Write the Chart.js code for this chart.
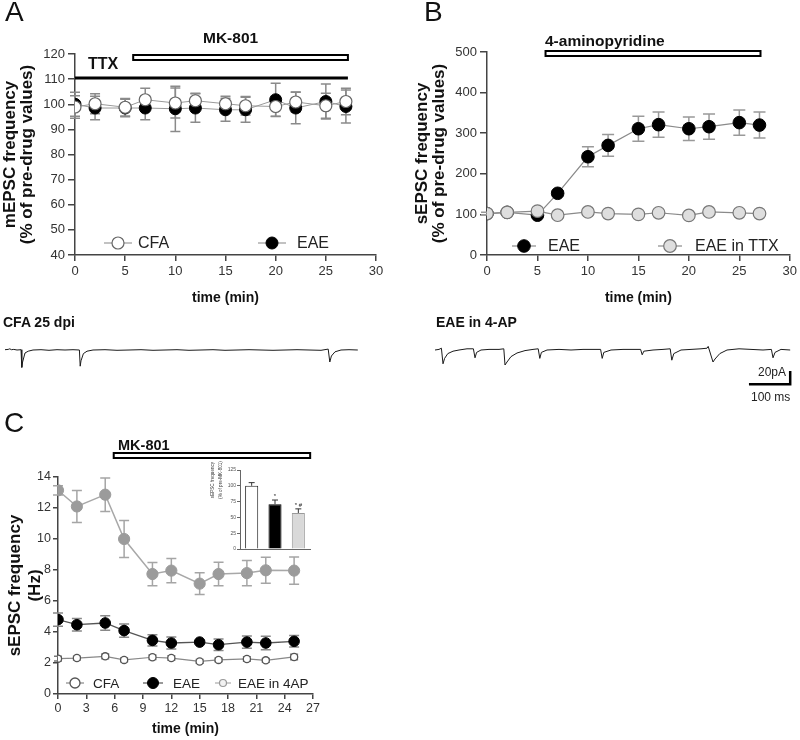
<!DOCTYPE html>
<html><head><meta charset="utf-8">
<script src="https://cdn.jsdelivr.net/npm/chart.js@4.4.1/dist/chart.umd.min.js"></script>
<style>
body{margin:0;width:800px;height:740px;background:#fff;position:relative;overflow:hidden;font-family:"Liberation Sans",Arial,Helvetica,sans-serif;}
canvas{position:absolute;}
.t{position:absolute;white-space:nowrap;color:#111;line-height:1;}
</style></head><body>
<canvas id="cA" width="400" height="320" style="left:0;top:0;width:400px;height:320px"></canvas>
<canvas id="cB" width="400" height="320" style="left:400px;top:0;width:400px;height:320px"></canvas>
<canvas id="tr1" width="360" height="48" style="left:5px;top:341px;width:360px;height:48px"></canvas>
<canvas id="tr2" width="360" height="48" style="left:435px;top:341px;width:360px;height:48px"></canvas>
<canvas id="cC" width="400" height="340" style="left:0;top:400px;width:400px;height:340px"></canvas>
<canvas id="cI" width="115" height="100" style="left:200px;top:455px;width:115px;height:100px"></canvas>
<script>
// ---------------- DATA ----------------
// Panel A: mEPSC frequency (% of pre-drug values)
const timesA = [0,2,5,7,10,12,15,17,20,22,25,27];
const cfaA    = [98.9,100.2,98.8,101.8,100.5,101.4,100.2,99.4,99.1,100.9,99.4,101.1];
const cfaAErr = [4.5,4,3.5,4.6,6,3,3,3.7,4,4,5,5.3];
const eaeA    = [100,98.5,98.5,98.5,98.2,98.5,97.8,97.8,101.8,98.5,101.1,99.1];
const eaeAErr = [4.8,4.7,3.5,4.7,9,5.7,4.6,5,6.6,6.3,7,6.6];
const mk801A  = [5.8,27.2];
const ttxA    = [0,27.2];

// Panel B: sEPSC frequency (% of pre-drug values)
const timesB  = [0,2,5,7,10,12,15,17,20,22,25,27];
const eaeB    = [102,105,98,152,242,270,311,321,311,316,326,320];
const eaeBErr = [3,4,4,6,24.5,27,31,31,29,31,31,32];
const ttxB    = [102,105,108,98,106,102,100,104,97.5,106,104,102];
const apB     = [5.8,27.1];

// Panel C: sEPSC frequency (Hz)
const timesC  = [0,2,5,7,10,12,15,17,20,22,25];
const cfaC    = [2.28,2.32,2.43,2.2,2.37,2.32,2.1,2.2,2.26,2.17,2.39];
const cfaCErr = [0.15,0.12,0.15,0.12,0.15,0.15,0.12,0.12,0.15,0.12,0.18];
const eaeC    = [4.8,4.47,4.58,4.09,3.46,3.29,3.35,3.18,3.35,3.29,3.4];
const eaeCErr = [0.43,0.4,0.47,0.43,0.37,0.39,0.1,0.37,0.4,0.43,0.37];
const ap4C    = [13.14,12.1,12.86,10.0,7.74,7.96,7.12,7.74,7.8,7.98,7.96];
const ap4CErr = [0.3,1.03,1.08,1.2,0.75,0.78,0.7,0.76,0.82,0.84,0.88];
const mk801C  = [5.9,26.7];

// Inset: sEPSC frequency (% of pre-MK-801)
const insetCats  = ['CFA','EAE','EAE in 4AP'];
const insetVals  = [100,71,57];
const insetErr   = [5,6.5,6.5];
const insetMarks = ['','*','* #'];

// Example traces (ms, pA)
const traceCFA_t  = [0,8,12,16,22,30,40,42,44,50,58,70,90,110,130,150,170,186,188,190,196,205,220,250,280,310,340,370,400,430,460,490,520,550,580,610,640,670,700,730,760,790,808,812,816,825,840,860,882];
const traceCFA_pA = [0.5,1,2,0.5,1,0,0.5,-29,-20,-5,-2,0,0.5,-0.5,0.5,0,0.5,0,-27,-18,-6,-2,0,0.5,-0.5,0,0.5,-0.5,0,0.5,-0.5,0,0.5,-0.5,0,0.5,0,-0.5,0,0.5,0,-0.5,1.5,-20,-10,-3,0,0.5,0];
const traceEAE_t  = [0,10,16,20,24,32,45,60,80,96,100,104,115,135,160,172,175,180,190,205,225,245,258,262,266,280,310,340,370,400,414,418,422,440,470,500,514,518,522,545,570,588,592,597,615,640,665,680,683,695,700,712,730,760,790,820,841,845,850,865,888];
const traceEAE_pA = [0,1,3,-23,-14,-6,-2,0,2,2,-13,-4,0,1,1,2,-25,-20,-11,-5,-1,1,2,-14,-4,0,1,0,1,1,1,-14,-4,0,1,1,1,-8,-2,0,1,2,-17,-6,0,1,2,3,6,-20,-15,-6,0,2,1,0,1,-13,-4,1,0];
const scaleBar = {ms:100, pA:20, atMs:888, atPA:-57};

// ---------------- HELPERS ----------------
const F = "'Liberation Sans', Arial, Helvetica, sans-serif";
Chart.defaults.font.family = F;
Chart.defaults.color = '#333';
Chart.defaults.animation = false;

function pts(xs, ys){ return xs.map((x,i)=>({x:x, y:ys[i]})); }

function addText(txt, left, baseline, size, weight, extra){
  const d = document.createElement('div');
  d.className = 't';
  d.textContent = txt;
  d.style.fontSize = size+'px';
  d.style.fontWeight = weight||'normal';
  d.style.top = (baseline - 0.8465*size)+'px';
  if (extra && extra.right!==undefined) d.style.right = extra.right+'px'; else d.style.left = left+'px';
  if (extra && extra.color) d.style.color = extra.color;
  document.body.appendChild(d);
}

// plain (non-proxied) decoration settings, keyed by canvas id
const DECOR = {};

const errPlugin = {
  id:'errbars',
  beforeDatasetsDraw(chart){
    const ctx = chart.ctx, ys = chart.scales.y;
    chart.data.datasets.forEach((ds,di)=>{
      if(!ds.err) return;
      const meta = chart.getDatasetMeta(di);
      ctx.save();
      ctx.strokeStyle = ds.errColor || '#888';
      ctx.lineWidth = ds.errWidth || 1.5;
      ds.data.forEach((p,i)=>{
        const e = ds.err[i]; if(!e) return;
        const v = (typeof p === 'object') ? p.y : p;
        const x = meta.data[i].x;
        const yt = ys.getPixelForValue(v+e);
        const yb = ds.errUpOnly ? ys.getPixelForValue(v) : ys.getPixelForValue(v-e);
        const c = ds.errCap || 5;
        ctx.beginPath();
        ctx.moveTo(x,yt); ctx.lineTo(x,yb);
        ctx.moveTo(x-c,yt); ctx.lineTo(x+c,yt);
        if(!ds.errUpOnly){ ctx.moveTo(x-c,yb); ctx.lineTo(x+c,yb); }
        ctx.stroke();
      });
      ctx.restore();
    });
  }
};

const decorPlugin = {
  id:'decorx',
  afterDatasetsDraw(chart){
    const opts = DECOR[chart.canvas.id] || {};
    const ctx = chart.ctx, ca = chart.chartArea, xs = chart.scales.x;
    (opts.bars||[]).forEach(b=>{
      const x1 = xs.getPixelForValue(b.range[0]), x2 = xs.getPixelForValue(b.range[1]);
      const y = ca.top + b.dy;
      ctx.save();
      if(b.kind==='open'){
        ctx.fillStyle = '#fff'; ctx.strokeStyle = '#000'; ctx.lineWidth = b.lw;
        ctx.fillRect(x1,y,x2-x1,b.h); ctx.strokeRect(x1,y,x2-x1,b.h);
      } else {
        ctx.strokeStyle = '#000'; ctx.lineWidth = b.lw;
        ctx.beginPath(); ctx.moveTo(x1,y); ctx.lineTo(x2,y); ctx.stroke();
      }
      ctx.restore();
    });
    (opts.legend||[]).forEach(it=>{
      const ds = chart.data.datasets[it.ds];
      const cx = ca.left + it.dx, cy = ca.bottom + it.dy;
      ctx.save();
      ctx.strokeStyle = it.lineColor || ds.borderColor; ctx.lineWidth = 1.2;
      ctx.beginPath(); ctx.moveTo(cx-it.half,cy); ctx.lineTo(cx+it.half,cy); ctx.stroke();
      ctx.beginPath(); ctx.arc(cx,cy,it.r || ds.pointRadius,0,Math.PI*2);
      ctx.fillStyle = it.fill || ds.pointBackgroundColor; ctx.fill();
      ctx.lineWidth = it.bw || ds.pointBorderWidth; ctx.strokeStyle = it.border || ds.pointBorderColor; ctx.stroke();
      ctx.fillStyle = '#222'; ctx.font = it.font; ctx.textBaseline = 'middle'; ctx.textAlign = 'left';
      ctx.fillText(ds.label, cx+it.tx, cy+1);
      ctx.restore();
    });
    if(opts.scaleBar){
      const sb = opts.scaleBar, ys = chart.scales.y;
      const x2 = xs.getPixelForValue(sb.atMs), x1 = xs.getPixelForValue(sb.atMs - sb.ms);
      const y2 = ys.getPixelForValue(sb.atPA), y1 = ys.getPixelForValue(sb.atPA + sb.pA);
      ctx.save(); ctx.strokeStyle='#000'; ctx.lineWidth=2.5; ctx.lineCap='square';
      ctx.beginPath(); ctx.moveTo(x1,y2); ctx.lineTo(x2,y2); ctx.lineTo(x2,y1); ctx.stroke();
      ctx.restore();
    }
    if(opts.marks){
      const ys = chart.scales.y, meta = chart.getDatasetMeta(0), ds = chart.data.datasets[0];
      ctx.save(); ctx.fillStyle='#222'; ctx.font='6px '+F; ctx.textAlign='center'; ctx.textBaseline='alphabetic';
      opts.marks.forEach((m,i)=>{ if(!m) return; ctx.fillText(m, meta.data[i].x, ys.getPixelForValue(ds.data[i]+ds.err[i]) - 2); });
      ctx.restore();
    }
    if(opts.rotTitle){
      const r = opts.rotTitle;
      ctx.save(); ctx.fillStyle='#333'; ctx.font=r.font; ctx.textAlign='center'; ctx.textBaseline='middle';
      r.lines.forEach((ln,i)=>{ ctx.save(); ctx.translate(r.x + i*r.lh, r.y); ctx.rotate(-Math.PI/2); ctx.fillText(ln,0,0); ctx.restore(); });
      ctx.restore();
    }
  }
};

function linAxis(o){
  return {
    type:'linear', min:o.min, max:o.max,
    ticks:{stepSize:o.step, color:'#333', font:{size:o.size, family:F}, padding:o.pad},
    grid:{drawOnChartArea:false, drawTicks:true, tickLength:o.tickLen, color:'#444', lineWidth:1.5},
    border:{color:'#444', width:1.5},
    title:{display:true, text:o.title, color:'#111', font:{size:o.titleSize, weight:'bold', family:F, lineHeight:o.lh||1.2}, padding:o.titlePad},
    afterFit:o.fit
  };
}

// ---------------- PANEL A ----------------
DECOR.cA = {
  bars:[{kind:'open',range:mk801A,dy:1,h:5,lw:2},{kind:'line',range:ttxA,dy:24,lw:3.2}],
  legend:[{ds:0,dx:43,dy:-12,half:14,tx:20,font:'16px '+F},{ds:1,dx:197,dy:-12,half:14,tx:25,font:'16px '+F}]
};
new Chart(document.getElementById('cA'), {
  type:'scatter',
  data:{datasets:[
    {label:'CFA', data:pts(timesA,cfaA), err:cfaAErr, errColor:'#8a8a8a', errCap:5, showLine:true,
     borderColor:'#9a9a9a', borderWidth:1, pointRadius:6, pointBackgroundColor:'#fff', pointBorderColor:'#666', pointBorderWidth:1.2},
    {label:'EAE', data:pts(timesA,eaeA), err:eaeAErr, errColor:'#8a8a8a', errCap:5, showLine:true,
     borderColor:'#9a9a9a', borderWidth:1, pointRadius:6, pointBackgroundColor:'#000', pointBorderColor:'#000', pointBorderWidth:1}
  ]},
  options:{
    responsive:false, devicePixelRatio:1,
    layout:{padding:{top:54,right:24,bottom:13,left:0}},
    scales:{
      x:linAxis({min:0,max:30,step:5,size:13,pad:3,tickLen:6,title:'time (min)',titleSize:14,titlePad:{top:0,bottom:0},fit:s=>{s.height=52;}}),
      y:linAxis({min:40,max:120,step:10,size:13,pad:3,tickLen:7,title:['mEPSC frequency','(% of pre-drug values)'],titleSize:17,lh:1.05,titlePad:{top:1,bottom:0},fit:s=>{s.width=75;}})
    },
    plugins:{legend:{display:false}, tooltip:{enabled:false}}
  },
  plugins:[errPlugin, decorPlugin]
});

// ---------------- PANEL B ----------------
DECOR.cB = {
  bars:[{kind:'open',range:apB,dy:-1,h:5,lw:2}],
  legend:[{ds:1,dx:37,dy:-9,half:12,tx:24,font:'16px '+F},{ds:0,dx:183,dy:-9,half:12,tx:25,font:'16px '+F}]
};
new Chart(document.getElementById('cB'), {
  type:'scatter',
  data:{datasets:[
    {label:'EAE in TTX', data:pts(timesB,ttxB), showLine:true,
     borderColor:'#8a8a8a', borderWidth:1.2, pointRadius:6.3, pointBackgroundColor:'#dedede', pointBorderColor:'#777', pointBorderWidth:1.2},
    {label:'EAE', data:pts(timesB,eaeB), err:eaeBErr, errColor:'#999', errCap:6, showLine:true,
     borderColor:'#8a8a8a', borderWidth:1.2, pointRadius:6.3, pointBackgroundColor:'#000', pointBorderColor:'#000', pointBorderWidth:1}
  ]},
  options:{
    responsive:false, devicePixelRatio:1,
    layout:{padding:{top:52,right:7,bottom:13,left:0}},
    scales:{
      x:linAxis({min:0,max:30,step:5,size:13,pad:3,tickLen:6,title:'time (min)',titleSize:14,titlePad:{top:0,bottom:0},fit:s=>{s.height=52;}}),
      y:linAxis({min:0,max:500,step:100,size:13,pad:3,tickLen:7,title:['sEPSC frequency','(% of pre-drug values)'],titleSize:17,lh:1.0,titlePad:{top:13.5,bottom:0},fit:s=>{s.width=87;}})
    },
    plugins:{legend:{display:false}, tooltip:{enabled:false}}
  },
  plugins:[errPlugin, decorPlugin]
});

// ---------------- TRACES ----------------
function traceChart(id, t, v){
  new Chart(document.getElementById(id), {
    type:'line',
    data:{datasets:[{data:pts(t,v), borderColor:'#1a1a1a', borderWidth:1, pointRadius:0, tension:0}]},
    options:{
      responsive:false, devicePixelRatio:1, layout:{padding:0},
      scales:{x:{type:'linear',display:false,min:0,max:900}, y:{type:'linear',display:false,min:-65,max:15}},
      plugins:{legend:{display:false}, tooltip:{enabled:false}}
    },
    plugins:[decorPlugin]
  });
}
DECOR.tr2 = {scaleBar:scaleBar};
traceChart('tr1', traceCFA_t, traceCFA_pA);
traceChart('tr2', traceEAE_t, traceEAE_pA);

// ---------------- PANEL C ----------------
DECOR.cC = {
  bars:[{kind:'open',range:mk801C,dy:-24,h:5,lw:2}],
  legend:[{ds:0,dx:17,dy:-11,half:9,tx:18,r:5,font:'13.5px '+F},
          {ds:1,dx:95,dy:-11,half:10,tx:20,r:5.5,font:'13.5px '+F},
          {ds:2,dx:165,dy:-11,half:8,tx:15,r:3.5,fill:'#f2f2f2',border:'#999',bw:1.2,lineColor:'#aaa',font:'13.5px '+F}]
};
new Chart(document.getElementById('cC'), {
  type:'scatter',
  data:{datasets:[
    {label:'CFA', data:pts(timesC,cfaC), err:cfaCErr, errColor:'#777', errCap:4, showLine:true,
     borderColor:'#888', borderWidth:1.2, pointRadius:3.6, pointBackgroundColor:'#fff', pointBorderColor:'#555', pointBorderWidth:1.3},
    {label:'EAE', data:pts(timesC,eaeC), err:eaeCErr, errColor:'#888', errCap:5, showLine:true,
     borderColor:'#555', borderWidth:1.3, pointRadius:5.3, pointBackgroundColor:'#000', pointBorderColor:'#000', pointBorderWidth:1},
    {label:'EAE in 4AP', data:pts(timesC,ap4C), err:ap4CErr, errColor:'#a5a5a5', errCap:5, showLine:true,
     borderColor:'#a8a8a8', borderWidth:1.5, pointRadius:5.6, pointBackgroundColor:'#9b9b9b', pointBorderColor:'#9b9b9b', pointBorderWidth:1}
  ]},
  options:{
    responsive:false, devicePixelRatio:1,
    layout:{padding:{top:77,right:87,bottom:0,left:0}},
    scales:{
      x:linAxis({min:0,max:27,step:3,size:12.5,pad:2,tickLen:5,title:'time (min)',titleSize:14,titlePad:{top:0,bottom:2},fit:s=>{s.height=46;}}),
      y:linAxis({min:0,max:14,step:2,size:12.5,pad:2,tickLen:5,title:['sEPSC frequency','(Hz)'],titleSize:17,lh:1.15,titlePad:{top:6,bottom:0},fit:s=>{s.width=58;}})
    },
    plugins:{legend:{display:false}, tooltip:{enabled:false}}
  },
  plugins:[errPlugin, decorPlugin]
});

// ---------------- INSET ----------------
DECOR.cI = {marks:insetMarks, rotTitle:{x:13,y:25,lh:8,font:'4.6px '+F,lines:['sEPSC frequency','(% of pre-MK-801)']}};
new Chart(document.getElementById('cI'), {
  type:'bar',
  data:{labels:insetCats, datasets:[{data:insetVals, err:insetErr, errUpOnly:true, errColor:'#333', errWidth:1, errCap:3,
    backgroundColor:['#ffffff','#000000','#d9d9d9'], borderColor:['#222','#000','#9a9a9a'], borderWidth:1,
    barPercentage:0.56, categoryPercentage:1}]},
  options:{
    responsive:false, devicePixelRatio:1,
    layout:{padding:{top:15,right:5,bottom:6,left:0}},
    scales:{
      x:{display:true, ticks:{display:false}, grid:{display:false, drawTicks:false}, border:{color:'#666',width:1}, afterFit:s=>{s.height=0;}},
      y:{type:'linear',min:0,max:125, ticks:{stepSize:25,color:'#555',font:{size:5,family:F},padding:1},
         grid:{drawOnChartArea:false,drawTicks:true,tickLength:3,color:'#666',lineWidth:1}, border:{color:'#666',width:1},
         afterFit:s=>{s.width=40;}}
    },
    plugins:{legend:{display:false}, tooltip:{enabled:false}}
  },
  plugins:[errPlugin, decorPlugin]
});

// ---------------- TEXT LABELS ----------------
addText('A', 5, 22, 28, 'normal');
addText('B', 424, 22, 28, 'normal');
addText('C', 4, 433, 28, 'normal');
addText('MK-801', 203, 43, 15.5, 'bold');
addText('TTX', 88, 70, 16, 'bold');
addText('4-aminopyridine', 545, 46.5, 15.5, 'bold');
addText('MK-801', 118, 450, 14.5, 'bold');
addText('CFA 25 dpi', 3, 327, 14, 'bold');
addText('EAE in 4-AP', 436, 327, 14, 'bold');
addText('20pA', 0, 376, 12, 'normal', {right:14, color:'#222'});
addText('100 ms', 751, 401, 12, 'normal', {color:'#222'});
</script>
</body></html>
